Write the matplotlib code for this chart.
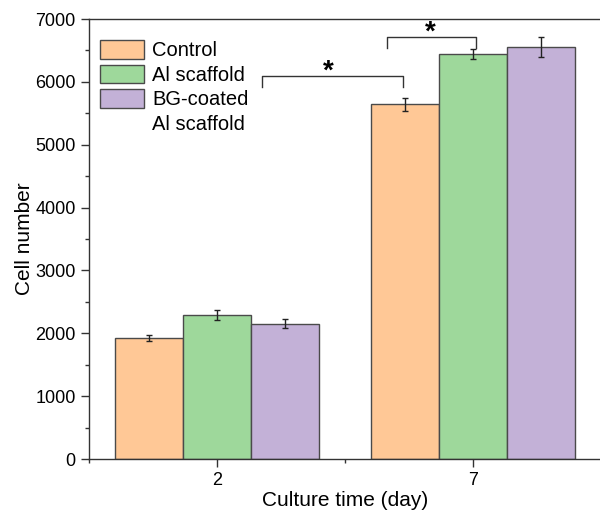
import numpy as np
import matplotlib.pyplot as plt
from matplotlib.patches import Patch

plt.rcParams['font.family'] = ['Liberation Sans', 'DejaVu Sans']

# data
days = ["2", "7"]
groups = ["Control", "Al scaffold", "BG-coated\nAl scaffold"]
means = {
    "Control": [1925, 5640],
    "Al scaffold": [2295, 6445],
    "BG-coated\nAl scaffold": [2155, 6560],
}
errs = {
    "Control": [45, 100],
    "Al scaffold": [80, 75],
    "BG-coated\nAl scaffold": [75, 160],
}
colors = ["#FFC896", "#9ED89B", "#C3B1D7"]

fig = plt.figure(figsize=(6.0, 5.11), dpi=100)
ax = fig.add_axes([89/600, 52/511, 512/600, 440/511])

x = np.arange(len(days))
w = 0.8 / 3
bars = []
for i, g in enumerate(groups):
    b = ax.bar(x + (i - 1) * w, means[g], w, color=colors[i], edgecolor="#4a4a4a",
               linewidth=1.0, zorder=2)
    ax.errorbar(x + (i - 1) * w, means[g], yerr=errs[g], fmt="none", ecolor="#222222",
                elinewidth=1.0, capsize=2.5, capthick=1.0, zorder=3)
    bars.append(b)

# significance brackets
def bracket(x1, x2, y, h1, h2, xs, ys):
    ax.plot([x1, x1, x2, x2], [y - h1, y, y, y - h2], color="#333333", lw=1.0, zorder=3)
    ax.text(xs, ys, "*", ha="center", va="center", fontsize=20, fontweight="bold")

bracket(0.176, 0.727, 6100, 180, 180, 0.435, 6160)
bracket(0.663, 1.012, 6720, 175, 175, 0.835, 6780)

ax.set_xlim(-0.5, 1.5)
ax.set_ylim(0, 7000)
ax.set_xticks(x)
ax.set_xticklabels(days)
ax.set_xticks([-0.5, 0.5, 1.5], minor=True)
ax.set_yticks(np.arange(0, 7001, 1000))
ax.set_yticks(np.arange(500, 7000, 1000), minor=True)
ax.tick_params(axis="both", which="major", direction="out", length=6, width=1,
               labelsize=13, colors="#333333", labelcolor="black")
ax.tick_params(axis="both", which="minor", direction="out", length=3, width=1,
               colors="#333333")
for s in ["left", "bottom", "top"]:
    ax.spines[s].set_color("#333333")
    ax.spines[s].set_linewidth(1.0)
ax.spines["right"].set_visible(False)

ax.set_xlabel("Culture time (day)", fontsize=15, labelpad=1)
ax.set_ylabel("Cell number", fontsize=15)
ax.yaxis.set_label_coords(-0.108, 0.5)

handles = bars + [Patch(facecolor="none", edgecolor="none")]
labels = ["Control", "Al scaffold", "BG-coated", "Al scaffold"]
ax.legend(handles, labels, loc="upper left", bbox_to_anchor=(11/512, 419/440), frameon=False,
          fontsize=14.5, handlelength=2.2, handleheight=1.05, labelspacing=0.22,
          handletextpad=0.4, borderaxespad=0, borderpad=0)

fig.savefig("out.png", dpi=100)
